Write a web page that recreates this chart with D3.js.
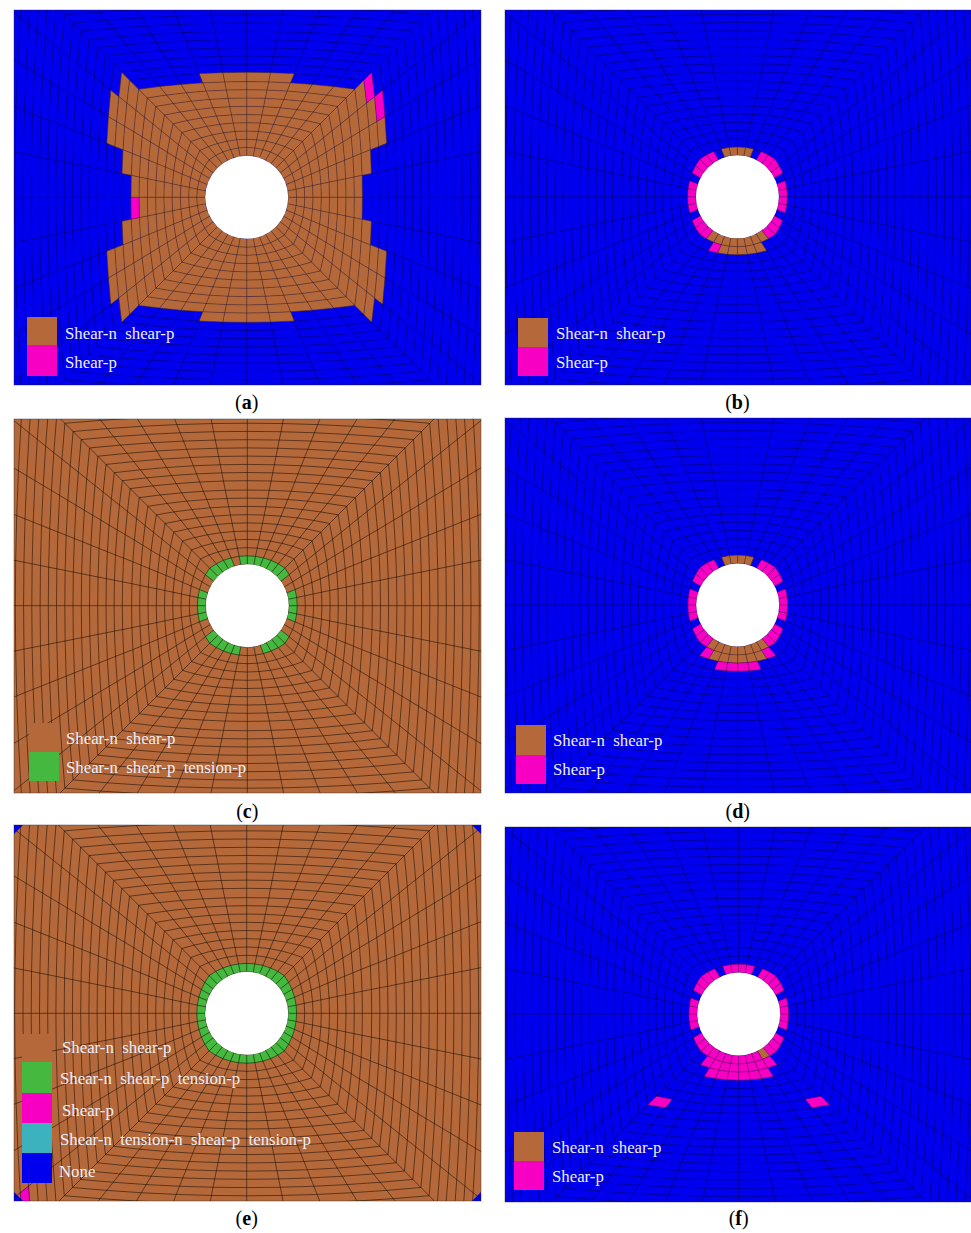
<!DOCTYPE html>
<html>
<head>
<meta charset="utf-8">
<script src="https://cdn.jsdelivr.net/npm/d3@7"></script>
<style>
html, body { margin: 0; padding: 0; background: #fff; }
svg { display: block; }
text { font-family: "Liberation Serif", serif; white-space: pre; }
</style>
</head>
<body>
<svg id="chart" width="971" height="1233"></svg>
<script>
// mesh: mid-side radius of every ring and how square it is (0 circle, 1 square)
const ringRadius = [41.5, 49.9, 58, 66.3, 74.6, 82.8, 91, 99.3, 107.6, 115.7, 125, 133.2, 141.3, 149.6, 157.8, 166,
    174.3, 182.5, 190.8, 199, 207.2, 215.5, 223.7, 232, 240.2, 248.4, 256.7, 265];
const ringSquare = [0, 0.16, 0.34, 0.46, 0.55, 0.62, 0.67, 0.71, 0.74, 0.775, 0.785, 0.79, 0.8, 0.81, 0.82, 0.83,
    0.84, 0.845, 0.85, 0.855, 0.86, 0.867, 0.87, 0.875, 0.88, 0.885, 0.888, 0.89];
const cellsAround = 40;

const stateNames = ["Shear-n  shear-p", "Shear-n  shear-p  tension-p", "Shear-p", "Shear-n  tension-n  shear-p  tension-p", "None"];
const stateColors = ["#b5693a", "#45b83f", "#f700c4", "#3bb2be", "#0000ee"];
const BROWN = 0, GREEN = 1, PINK = 2, NONE = 4;

// failed cells per panel: [ring, first cell, last cell, state], cell 0 starts at north and goes clockwise
const cellsA = [
    [0, 0, 39, BROWN], [1, 0, 39, BROWN], [2, 0, 39, BROWN], [3, 0, 39, BROWN], [4, 0, 39, BROWN],
    [5, 0, 39, BROWN], [6, 0, 39, BROWN], [7, 0, 39, BROWN], [8, 0, 39, BROWN], [8, 29, 29, PINK],
    [9, 38, 41, BROWN], [9, 18, 21, BROWN], [9, 5, 8, BROWN], [9, 11, 14, BROWN], [9, 25, 28, BROWN], [9, 31, 34, BROWN],
    [10, 6, 7, BROWN], [10, 5, 5, PINK], [10, 12, 14, BROWN], [10, 25, 27, BROWN], [10, 32, 34, BROWN],
    [11, 7, 7, BROWN], [11, 6, 6, PINK], [11, 12, 13, BROWN], [11, 26, 27, BROWN], [11, 32, 33, BROWN]
];
const cellsB = [
    [0, 38, 41, BROWN], [0, 3, 6, PINK], [0, 8, 11, PINK], [0, 13, 15, PINK], [0, 16, 23, BROWN],
    [0, 24, 26, PINK], [0, 28, 31, PINK], [0, 33, 36, PINK],
    [1, 17, 21, BROWN], [1, 22, 22, PINK]
];
const cellsC = [
    [0, 39, 45, GREEN], [0, 34, 37, GREEN], [0, 28, 31, GREEN], [0, 21, 25, GREEN], [0, 14, 17, GREEN], [0, 8, 11, GREEN]
];
const cellsD = [
    [0, 38, 41, BROWN], [0, 3, 6, PINK], [0, 8, 11, PINK], [0, 13, 15, PINK], [0, 16, 23, BROWN],
    [0, 24, 26, PINK], [0, 28, 31, PINK], [0, 33, 36, PINK],
    [1, 16, 16, PINK], [1, 17, 22, BROWN], [1, 23, 23, PINK],
    [2, 18, 21, PINK]
];
const cellsE = [
    [0, 0, 39, GREEN], [22, 25, 25, PINK]
];
const cellsF = [
    [0, 38, 41, PINK], [0, 3, 6, PINK], [0, 8, 11, PINK], [0, 13, 15, PINK], [0, 16, 16, BROWN], [0, 17, 26, PINK],
    [0, 28, 31, PINK], [0, 33, 36, PINK],
    [1, 16, 23, PINK], [2, 17, 22, PINK],
    [6, 15, 15, PINK], [6, 24, 24, PINK]
];

// size of the "None" triangles left in the frame corners of panel e
const cornerNone = [[0, 9], [1, 9], [2, 9], [3, 9]];

const legendA = [BROWN, PINK];
const legendC = [BROWN, GREEN];
const legendE = [BROWN, GREEN, PINK, 3, NONE];

const panels = [
    {letter: "a", cells: cellsA, base: NONE, x0: 14, x1: 481, y0: 10, y1: 385, cx: 246.7, cy: 197.3, capY: 409,
     legend: legendA, swX: 27, swY: [317, 345, 376], textX: [65, 65], textY: [339, 368]},
    {letter: "b", cells: cellsB, base: NONE, x0: 505, x1: 971, y0: 10, y1: 385, cx: 737.4, cy: 196.8, capY: 409,
     legend: legendA, swX: 518, swY: [318, 347, 376], textX: [556, 556], textY: [339, 368]},
    {letter: "c", cells: cellsC, base: BROWN, x0: 14, x1: 481, y0: 419, y1: 793, cx: 247.3, cy: 605.7, capY: 818,
     legend: legendC, swX: 29, swY: [723, 752, 781], textX: [66, 66], textY: [744, 773]},
    {letter: "d", cells: cellsD, base: NONE, x0: 505, x1: 971, y0: 418, y1: 793, cx: 737.7, cy: 605, capY: 818,
     legend: legendA, swX: 516, swY: [725, 755, 784], textX: [553, 553], textY: [746, 775]},
    {letter: "e", cells: cellsE, base: BROWN, x0: 14, x1: 481, y0: 825, y1: 1201, cx: 246.7, cy: 1013.3, capY: 1225,
     legend: legendE, swX: 22, swY: [1034, 1062, 1093, 1123, 1153, 1183], textX: [62, 60, 62, 60, 59], textY: [1053, 1084, 1116, 1145, 1177]},
    {letter: "f", cells: cellsF, base: NONE, x0: 505, x1: 971, y0: 827, y1: 1202, cx: 738.7, cy: 1014, capY: 1225,
     legend: legendA, swX: 514, swY: [1132, 1161, 1190], textX: [552, 552], textY: [1153, 1182]}
];

const svg = d3.select("#chart");
const color = d3.scaleOrdinal().domain(d3.range(stateColors.length)).range(stateColors);

// node of the mesh in model units (y up), blend of a point on the circle and the same spoke on the square
function node(ring, spoke) {
    const R = ringRadius[ring], t = ringSquare[ring];
    const k = ((spoke % cellsAround) + cellsAround) % cellsAround;
    const side = Math.floor((k + 5) / 10) % 4;
    const off = k - side * 10 > 5 ? k - side * 10 - 40 : k - side * 10;
    const a = k * 2 * Math.PI / cellsAround;
    const sq = [[off / 5, 1], [1, -off / 5], [-off / 5, -1], [-1, off / 5]][side];
    return [(1 - t) * R * Math.sin(a) + t * R * sq[0], (1 - t) * R * Math.cos(a) + t * R * sq[1]];
}

panels.forEach(function(p, pi) {
    const x = d3.scaleLinear().domain([0, 100]).range([p.cx, p.cx + 100]);
    const y = d3.scaleLinear().domain([0, 100]).range([p.cy, p.cy - 100]);
    const line = d3.line().x(d => x(d[0])).y(d => y(d[1]));
    const meshOpacity = p.base === NONE ? 0.36 : 0.55;

    svg.append("clipPath").attr("id", "clip" + pi).append("rect")
        .attr("x", p.x0).attr("y", p.y0).attr("width", p.x1 - p.x0).attr("height", p.y1 - p.y0);

    const g = svg.append("g").attr("clip-path", "url(#clip" + pi + ")").append("g").style("filter", "blur(0.4px)");
    g.append("rect").attr("x", p.x0 - 3).attr("y", p.y0 - 3).attr("width", p.x1 - p.x0 + 6).attr("height", p.y1 - p.y0 + 6)
        .attr("fill", color(p.base));

    // expand the runs into single cells
    let quads = [];
    p.cells.forEach(function(run) {
        d3.range(run[1], run[2] + 1).forEach(function(c) {
            quads.push({ring: run[0], cell: c, state: run[3]});
        });
    });

    g.selectAll("path.cell").data(quads).join("path")
        .attr("class", "cell")
        .attr("d", d => line([node(d.ring, d.cell), node(d.ring, d.cell + 1), node(d.ring + 1, d.cell + 1), node(d.ring + 1, d.cell)]) + "Z")
        .attr("fill", d => color(d.state))
        .attr("stroke", d => color(d.state))
        .attr("stroke-width", 0.3);

    if (p.letter === "e") {
        g.selectAll("path.corner").data(cornerNone).join("path")
            .attr("class", "corner")
            .attr("d", function(d) {
                const cx = d[0] === 0 || d[0] === 3 ? p.x0 : p.x1, cy = d[0] < 2 ? p.y0 : p.y1;
                const sx = cx === p.x0 ? 1 : -1, sy = cy === p.y0 ? 1 : -1;
                return "M" + cx + "," + cy + "L" + (cx + sx * d[1]) + "," + cy + "L" + cx + "," + (cy + sy * d[1]) + "Z";
            })
            .attr("fill", color(NONE));
    }

    // rings and spokes
    const spokes = d3.range(cellsAround);
    const rings = d3.range(ringRadius.length);
    g.selectAll("path.ring").data(rings).join("path")
        .attr("class", "ring")
        .attr("d", r => line(spokes.map(s => node(r, s))) + "Z")
        .attr("fill", "none").attr("stroke", "#000").attr("stroke-opacity", meshOpacity).attr("stroke-width", 0.9);
    g.selectAll("path.spoke").data(spokes).join("path")
        .attr("class", "spoke")
        .attr("d", s => line(rings.map(r => node(r, s))))
        .attr("fill", "none").attr("stroke", "#000").attr("stroke-opacity", meshOpacity).attr("stroke-width", 0.9);

    g.append("circle").attr("cx", x(0)).attr("cy", y(0)).attr("r", ringRadius[0]).attr("fill", "#fff");

    svg.append("rect").attr("x", p.x0).attr("y", p.y0).attr("width", p.x1 - p.x0).attr("height", p.y1 - p.y0)
        .attr("fill", "none").attr("stroke", "#222").attr("stroke-opacity", 0.4).attr("stroke-width", 1);

    // legend
    p.legend.forEach(function(s, i) {
        svg.append("rect").attr("x", p.swX).attr("y", p.swY[i]).attr("width", 30).attr("height", p.swY[i + 1] - p.swY[i])
            .attr("fill", color(s));
        svg.append("text").attr("x", p.textX[i]).attr("y", p.textY[i])
            .attr("font-size", 16.8).attr("fill", "#eeeef8")
            .text(stateNames[s]);
    });

    // caption
    const cap = svg.append("text").attr("x", x(0)).attr("y", p.capY)
        .attr("text-anchor", "middle").attr("font-size", 20).attr("fill", "#000");
    cap.append("tspan").text("(");
    cap.append("tspan").attr("font-weight", "bold").text(p.letter);
    cap.append("tspan").text(")");
});
</script>
</body>
</html>
